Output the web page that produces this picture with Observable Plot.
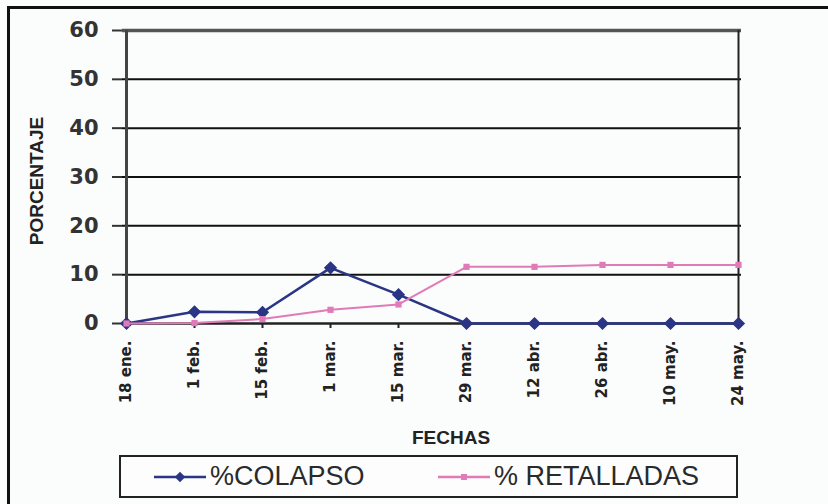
<!DOCTYPE html>
<html>
<head>
<meta charset="utf-8">
<script src="https://cdn.jsdelivr.net/npm/d3@7"></script>
<script src="https://cdn.jsdelivr.net/npm/@observablehq/plot@0.6"></script>
<style>
  html, body { margin: 0; padding: 0; background: #fbfcfc; }
  #wrap { position: relative; width: 828px; height: 504px; overflow: hidden; background: #fbfcfc; font-family: "Liberation Sans", Arial, sans-serif; }
  #frame { position: absolute; left: 7px; top: 6px; width: 900px; height: 600px; border-top: 3px solid #111; border-left: 3px solid #111; }
  #chart { position: absolute; left: 0; top: 0; }
  #legend { position: absolute; left: 119px; top: 455px; width: 615px; height: 39px; border: 2px solid #222; background: #fdfdfd; }
  .item { position: absolute; top: 0; height: 39px; display: flex; align-items: center; font-size: 27px; color: #2a2a2a; }
  .item svg { margin-right: 3px; }
</style>
</head>
<body>
<div id="wrap">
  <div id="frame"></div>
  <div id="chart"></div>
  <div id="legend"></div>
</div>
<script>
const fechas = ["18 ene.","1 feb.","15 feb.","1 mar.","15 mar.","29 mar.","12 abr.","26 abr.","10 may.","24 may."];
const colapso = [0, 2.4, 2.3, 11.4, 5.9, 0, 0, 0, 0, 0];
const retalladas = [0, 0.1, 0.9, 2.8, 3.9, 11.6, 11.6, 12, 12, 12];
const yTicks = [0, 10, 20, 30, 40, 50, 60];
const series = ["%COLAPSO", "% RETALLADAS"];
const colors = ["#2a3585", "#e07ab8"];

const dColapso = fechas.map((f, i) => ({fecha: f, valor: colapso[i]}));
const dRetalladas = fechas.map((f, i) => ({fecha: f, valor: retalladas[i]}));

const chart = Plot.plot({
  width: 828,
  height: 450,
  marginLeft: 122,
  marginRight: 87,
  marginTop: 30,
  marginBottom: 127,
  style: {background: "transparent", fontFamily: "'Liberation Sans', Arial, sans-serif", color: "#222"},
  x: {type: "point", domain: fechas, padding: 0, label: null},
  y: {domain: [0, 60], label: null},
  marks: [
    Plot.ruleY(yTicks.filter(d => d > 0 && d < 60), {stroke: "#111", strokeWidth: 2}),
    Plot.ruleY([60], {stroke: "#555", strokeWidth: 3.5}),
    Plot.ruleX([fechas[0]], {y1: 0, y2: 60, stroke: "#444", strokeWidth: 3}),
    Plot.ruleX([fechas[fechas.length - 1]], {y1: 0, y2: 60, stroke: "#222", strokeWidth: 2}),
    Plot.ruleY([0], {stroke: "#222", strokeWidth: 2.5}),
    Plot.axisY({ticks: yTicks, tickSize: 10, tickPadding: 14, fontSize: 21, fontWeight: "bold", fontFamily: "'DejaVu Sans', sans-serif", color: "#333", strokeWidth: 2, label: null}),
    Plot.axisX({tickRotate: -90, tickSize: 5, tickPadding: 12, fontSize: 15, fontWeight: "bold", fontFamily: "'DejaVu Sans', sans-serif", color: "#222", strokeWidth: 2, label: null}),
    Plot.text(["PORCENTAJE"], {frameAnchor: "left", textAnchor: "middle", lineAnchor: "middle", rotate: -90, dx: -86, dy: 4, fontSize: 19, fontWeight: "bold", fill: "#222"}),
    Plot.text(["FECHAS"], {frameAnchor: "bottom", textAnchor: "middle", lineAnchor: "bottom", dx: 19, dy: 120, fontSize: 19, fontWeight: "bold", fill: "#222"}),
    Plot.line(dColapso, {x: "fecha", y: "valor", stroke: colors[0], strokeWidth: 2.5}),
    Plot.dot(dColapso, {x: "fecha", y: "valor", symbol: "diamond2", r: 5, fill: colors[0], stroke: colors[0]}),
    Plot.line(dRetalladas, {x: "fecha", y: "valor", stroke: colors[1], strokeWidth: 2}),
    Plot.dot(dRetalladas, {x: "fecha", y: "valor", symbol: "square", r: 3.5, fill: colors[1]})
  ]
});
document.getElementById("chart").appendChild(chart);

const legend = document.getElementById("legend");
const lefts = [32, 316];
const syms = ["diamond", "square"];
series.forEach((s, i) => {
  const item = document.createElement("div");
  item.className = "item";
  item.style.left = lefts[i] + "px";
  const ns = "http://www.w3.org/2000/svg";
  const svg = document.createElementNS(ns, "svg");
  svg.setAttribute("width", 54); svg.setAttribute("height", 14);
  const ln = document.createElementNS(ns, "line");
  ln.setAttribute("x1", 1); ln.setAttribute("x2", 53); ln.setAttribute("y1", 7); ln.setAttribute("y2", 7);
  ln.setAttribute("stroke", colors[i]); ln.setAttribute("stroke-width", 2.5);
  svg.appendChild(ln);
  const p = document.createElementNS(ns, "path");
  const sym = syms[i] === "diamond" ? d3.symbolDiamond2 : d3.symbolSquare;
  p.setAttribute("d", d3.symbol(sym, syms[i] === "diamond" ? 70 : 36)());
  p.setAttribute("transform", "translate(27,7)");
  p.setAttribute("fill", colors[i]);
  svg.appendChild(p);
  item.appendChild(svg);
  const t = document.createElement("span");
  t.textContent = s;
  item.appendChild(t);
  legend.appendChild(item);
});
</script>
</body>
</html>
